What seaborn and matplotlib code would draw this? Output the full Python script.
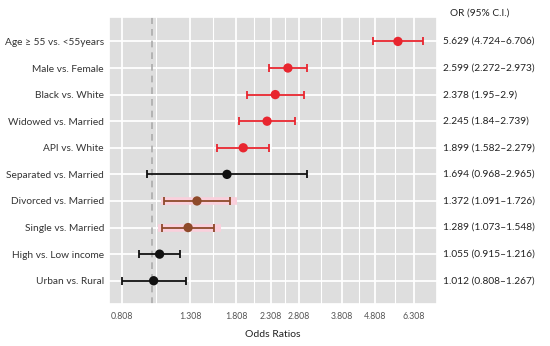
import numpy as np
import pandas as pd
import matplotlib
matplotlib.use('Agg')
import matplotlib.pyplot as plt
import matplotlib.ticker as mticker
import seaborn as sns

# datos del forest plot (de arriba hacia abajo)
labels = ['Age ≥ 55 vs. <55years', 'Male vs. Female', 'Black vs. White',
          'Widowed vs. Married', 'API vs. White', 'Separated vs. Married',
          'Divorced vs. Married', 'Single vs. Married', 'High vs. Low income',
          'Urban vs. Rural']
odds = [5.629, 2.599, 2.378, 2.245, 1.899, 1.694, 1.372, 1.289, 1.055, 1.012]
ci_low = [4.724, 2.272, 1.95, 1.84, 1.582, 0.968, 1.091, 1.073, 0.915, 0.808]
ci_high = [6.706, 2.973, 2.9, 2.739, 2.279, 2.965, 1.726, 1.548, 1.216, 1.267]
ci_text = ['5.629 (4.724–6.706)', '2.599 (2.272–2.973)', '2.378 (1.95–2.9)',
           '2.245 (1.84–2.739)', '1.899 (1.582–2.279)', '1.694 (0.968–2.965)',
           '1.372 (1.091–1.726)', '1.289 (1.073–1.548)', '1.055 (0.915–1.216)',
           '1.012 (0.808–1.267)']
groups = ['sig', 'sig', 'sig', 'sig', 'sig', 'ns', 'mid', 'mid', 'ns', 'ns']
x_breaks = [0.808, 1.308, 1.808, 2.308, 2.808, 3.808, 4.808, 6.308]

colores = {'sig': '#E8262F', 'ns': '#111111', 'mid': '#8E4A2A'}

df = pd.DataFrame({'label': labels, 'odds': odds, 'lo': ci_low, 'hi': ci_high,
                   'group': groups})
df['pos'] = np.arange(len(df))

sns.set_theme(style="darkgrid", rc={'axes.facecolor': '#DEDEDE',
                                    'grid.color': 'white'})
plt.rcParams['font.family'] = ['Lato', 'DejaVu Sans']

fig = plt.figure(figsize=(5.5, 3.46), dpi=100)
ax = fig.add_axes([0.198, 0.121, 0.597, 0.830])

# sombra rosada de los intervalos marrones
for _, r in df[df['group'] == 'mid'].iterrows():
    ax.plot([r['lo'] * 0.975, r['hi'] * 1.05], [r['pos'], r['pos']],
            color='#FAD0DC', lw=5.5, solid_capstyle='butt', zorder=1.5)

for g, c in colores.items():
    sub = df[df['group'] == g]
    ax.errorbar(sub['odds'], sub['pos'],
                xerr=[sub['odds'] - sub['lo'], sub['hi'] - sub['odds']],
                fmt='none', ecolor=c, elinewidth=1.3, capsize=3, capthick=1.3,
                zorder=2)

sns.scatterplot(data=df, x='odds', y='pos', hue='group', palette=colores,
                s=45, edgecolor='none', legend=False, ax=ax, zorder=3)

ax.axvline(1.0, color='#ABABAB', ls=(0, (4, 3)), lw=1.2, zorder=1.8)

ax.set_xscale('log')
ax.set_xlim(0.739, 7.42)
ax.xaxis.set_major_locator(mticker.FixedLocator(x_breaks))
ax.xaxis.set_major_formatter(mticker.FixedFormatter([f'{b:.3f}' for b in x_breaks]))
minors = [np.sqrt(a * b) for a, b in zip(x_breaks[:-1], x_breaks[1:])]
ax.xaxis.set_minor_locator(mticker.FixedLocator(minors))
ax.xaxis.set_minor_formatter(mticker.NullFormatter())
ax.grid(which='major', color='white', lw=1.3)
ax.grid(which='minor', axis='x', color='white', lw=0.8)

ax.set_ylim(9.88, -0.92)
ax.set_yticks(df['pos'])
ax.set_yticklabels(labels)
ax.tick_params(axis='both', which='both', length=0, labelsize=7.3, colors='#333333')
ax.tick_params(axis='x', labelsize=6.3, colors='#555555', pad=6)
ax.set_ylabel('')
ax.set_xlabel('Odds Ratios', fontsize=7.5, color='#222222', labelpad=6)

# columna derecha con OR e IC
for y, t in zip(df['pos'], ci_text):
    ax.text(1.016, y, t, transform=ax.get_yaxis_transform(), va='center',
            ha='left', fontsize=7.3, color='#222222')
fig.text(450 / 550, 1 - 13 / 346, 'OR (95% C.I.)', va='center', ha='left',
         fontsize=7.3, color='#222222')

fig.savefig('out.png', dpi=100)
